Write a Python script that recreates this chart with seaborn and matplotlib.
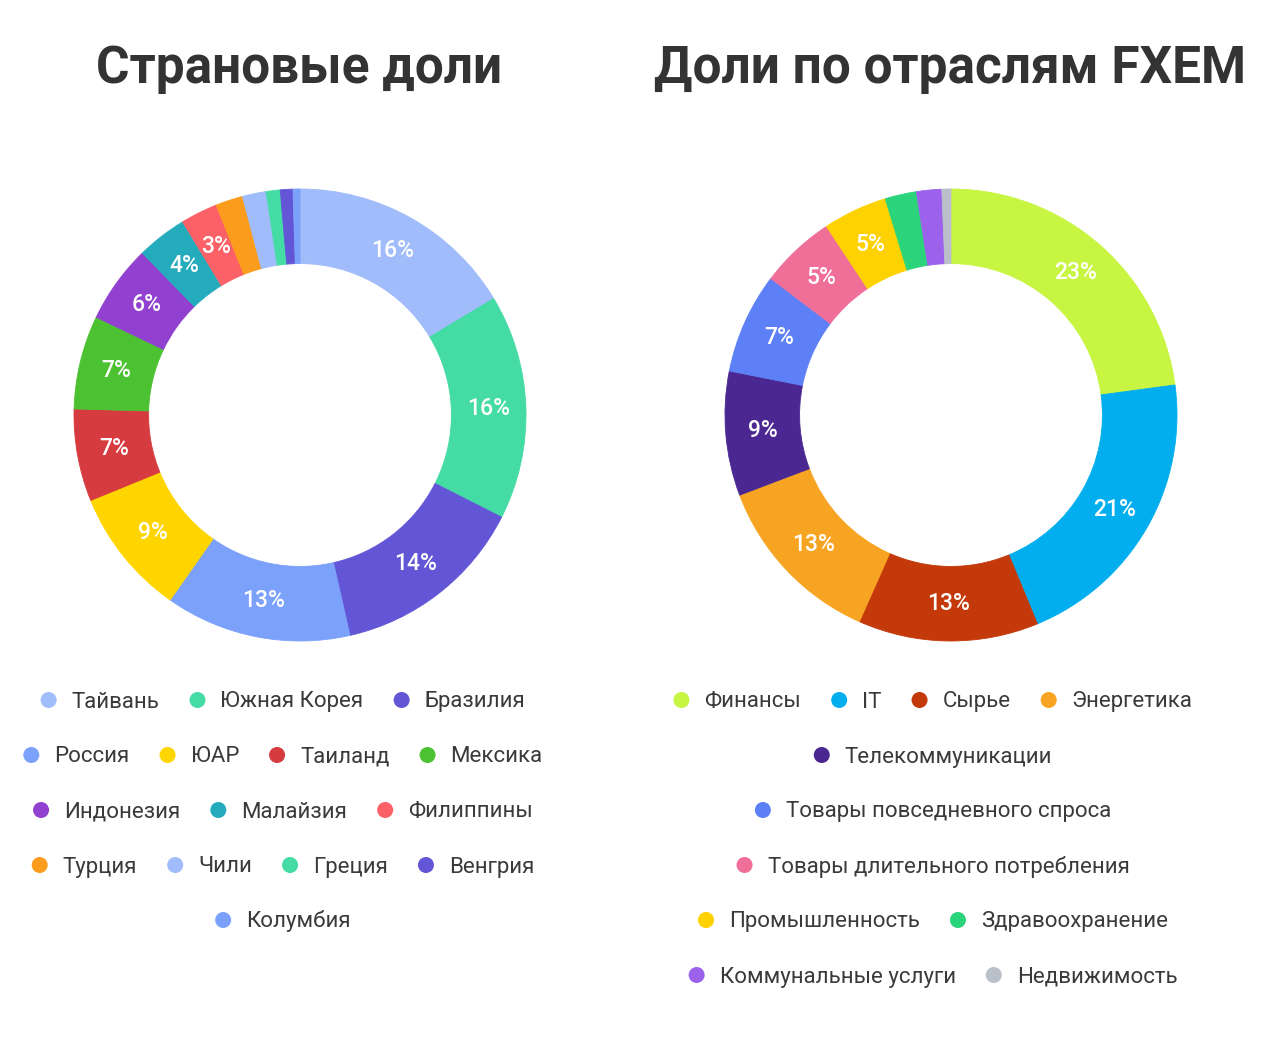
import matplotlib
matplotlib.use("Agg")
import matplotlib.pyplot as plt
from matplotlib.patches import Circle
import seaborn as sns

# Страновые доли (%)
country_labels = ["Тайвань", "Южная Корея", "Бразилия", "Россия", "ЮАР", "Таиланд",
                  "Мексика", "Индонезия", "Малайзия", "Филиппины", "Турция", "Чили",
                  "Греция", "Венгрия", "Колумбия"]
country_values = [16.4, 16.1, 14.0, 13.3, 9.1, 6.6, 6.7, 5.6, 3.6, 2.65, 1.95, 1.7, 1.0, 0.9, 0.5]
country_colors = ["#a0bcfb", "#45dba5", "#6256d6", "#7ba1fb", "#ffd500", "#d63b3f",
                  "#4cc232", "#9140cf", "#24acbd", "#fb6166", "#fb9c1c", "#a0bcfb",
                  "#45dba5", "#6256d6", "#7ba1fb"]

# Доли по отраслям FXEM (%)
sector_labels = ["Финансы", "IT", "Сырье", "Энергетика", "Телекоммуникации",
                 "Товары повседневного спроса", "Товары длительного потребления",
                 "Промышленность", "Здравоохранение", "Коммунальные услуги", "Недвижимость"]
sector_values = [22.9, 20.9, 12.9, 12.6, 8.9, 7.2, 5.4, 4.6, 2.25, 1.8, 0.65]
sector_colors = ["#c8f542", "#03aeee", "#c4390a", "#f6a421", "#4b2891", "#5e80f6",
                 "#ef6f98", "#fed200", "#2bd47b", "#9c62ec", "#b9c0c9"]

sns.set_theme(style="white")
plt.rcParams["font.family"] = ["Roboto", "DejaVu Sans"]

W, H = 1280, 1041
fig = plt.figure(figsize=(W / 100, H / 100), dpi=100)
fig.patch.set_facecolor("white")

overlay = fig.add_axes([0, 0, 1, 1], zorder=5)
overlay.set_xlim(0, W)
overlay.set_ylim(H, 0)
overlay.axis("off")
overlay.patch.set_alpha(0)

TEXT = "#3a3a3a"


def donut(cx, cy, r, values, colors):
    ax = fig.add_axes([(cx - r) / W, (H - cy - r) / H, 2 * r / W, 2 * r / H])
    wedges, texts, autotexts = ax.pie(
        values, colors=colors, startangle=90, counterclock=False, radius=1,
        wedgeprops=dict(width=0.33),
        autopct=lambda p: f"{p:.0f}%" if p >= 2.5 else "",
        pctdistance=0.835,
        textprops=dict(color="white", fontsize=16.5, fontweight="medium"),
    )
    for w in wedges:
        w.set_edgecolor(w.get_facecolor())
        w.set_linewidth(0.6)
    ax.set_xlim(-1, 1)
    ax.set_ylim(-1, 1)
    ax.set_aspect("equal")
    ax.axis("off")


def legend(labels, colors, cx, y0, maxw=575, fs=16):
    renderer = fig.canvas.get_renderer()
    widths = []
    for lab in labels:
        t = overlay.text(0, 0, lab, fontsize=fs)
        widths.append(t.get_window_extent(renderer).width)
        t.remove()
    item_w = [31 + w for w in widths]
    gap = 30
    rows, cur, curw = [], [], 0
    for i, w in enumerate(item_w):
        add = w if not cur else w + gap
        if cur and curw + add > maxw:
            rows.append(cur)
            cur, curw = [i], w
        else:
            cur.append(i)
            curw += add
    rows.append(cur)
    for k, row in enumerate(rows):
        total = sum(item_w[i] for i in row) + gap * (len(row) - 1)
        x = cx - total / 2
        y = y0 + k * 55
        for i in row:
            overlay.add_patch(Circle((x + 8, y), 8, color=colors[i], lw=0))
            overlay.text(x + 31, y + 7.5, labels[i], fontsize=fs, color=TEXT,
                         ha="left", va="baseline")
            x += item_w[i] + gap


overlay.text(299, 83, "Страновые доли", fontsize=37, fontweight="bold",
             color="#333333", ha="center", va="baseline")
overlay.text(950, 83, "Доли по отраслям FXEM", fontsize=37, fontweight="bold",
             color="#333333", ha="center", va="baseline")

donut(300, 415, 226, country_values, country_colors)
donut(951, 415, 226, sector_values, sector_colors)

legend(country_labels, country_colors, 283, 700)
legend(sector_labels, sector_colors, 933, 700)

fig.savefig("out.png", dpi=100, facecolor="white")
